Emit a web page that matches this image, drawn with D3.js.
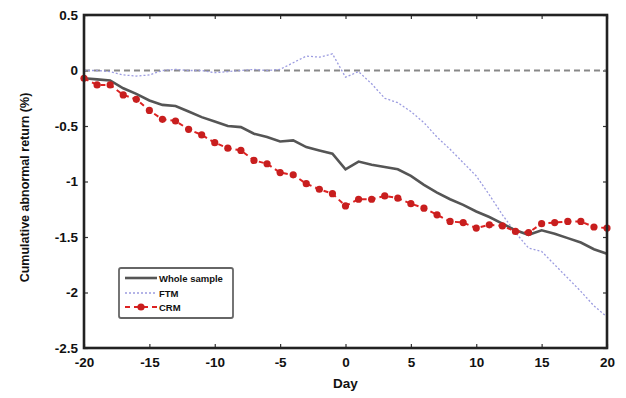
<!DOCTYPE html>
<html><head><meta charset="utf-8">
<script src="https://cdn.jsdelivr.net/npm/d3@7"></script>
<style>body{margin:0;background:#fff}svg text{font-family:"Liberation Sans",Arial,sans-serif;font-weight:bold}</style>
</head><body><svg id="c" width="626" height="398"></svg>
<script>
const days = d3.range(-20, 21);
const wholeSample = [-0.07,-0.08,-0.09,-0.16,-0.21,-0.27,-0.31,-0.32,-0.37,-0.42,-0.46,-0.50,-0.51,-0.57,-0.60,-0.64,-0.63,-0.69,-0.72,-0.75,-0.89,-0.82,-0.85,-0.87,-0.89,-0.95,-1.03,-1.10,-1.16,-1.21,-1.27,-1.32,-1.38,-1.44,-1.48,-1.44,-1.47,-1.51,-1.55,-1.61,-1.65];
const ftm = [0.0,0.0,-0.01,-0.04,-0.05,-0.04,0.0,0.01,0.0,0.0,-0.02,-0.01,0.0,0.01,0.0,0.01,0.07,0.13,0.12,0.15,-0.06,-0.01,-0.12,-0.25,-0.29,-0.37,-0.47,-0.60,-0.71,-0.83,-0.95,-1.12,-1.30,-1.46,-1.60,-1.63,-1.75,-1.87,-1.99,-2.12,-2.22];
const crm = [-0.07,-0.13,-0.13,-0.22,-0.26,-0.36,-0.44,-0.455,-0.53,-0.58,-0.65,-0.70,-0.72,-0.81,-0.84,-0.92,-0.94,-1.02,-1.07,-1.11,-1.22,-1.16,-1.16,-1.13,-1.15,-1.20,-1.24,-1.30,-1.36,-1.37,-1.42,-1.39,-1.40,-1.45,-1.46,-1.38,-1.37,-1.36,-1.36,-1.41,-1.42];
const xTicks = [-20,-15,-10,-5,0,5,10,15,20];
const yTicks = [0.5,0,-0.5,-1,-1.5,-2,-2.5];
const legendLabels = ["Whole sample","FTM","CRM"];

const svg = d3.select("#c");
const L=84,R=607,T=15,B=348;
const x = d3.scaleLinear().domain([-20,20]).range([L,R]);
const y = d3.scaleLinear().domain([-2.5,0.5]).range([B,T]);

const fmt = d=>String(d).replace("\u2212","-");
const xa = svg.append("g").attr("transform",`translate(0,${B})`)
  .call(d3.axisBottom(x).tickValues(xTicks).tickSizeInner(-4).tickSizeOuter(0).tickPadding(9).tickFormat(fmt));
const xt = svg.append("g").attr("transform",`translate(0,${T})`)
  .call(d3.axisTop(x).tickValues(xTicks).tickSizeInner(-4).tickSizeOuter(0).tickFormat(""));
const ya = svg.append("g").attr("transform",`translate(${L},0)`)
  .call(d3.axisLeft(y).tickValues(yTicks).tickSizeInner(-4).tickSizeOuter(0).tickPadding(6).tickFormat(fmt));
const yr = svg.append("g").attr("transform",`translate(${R},0)`)
  .call(d3.axisRight(y).tickValues(yTicks).tickSizeInner(-4).tickSizeOuter(0).tickFormat(""));
[xa,xt,ya,yr].forEach(g=>{g.select(".domain").remove();g.selectAll("line").attr("stroke","#333").attr("stroke-width",1.2);
  g.selectAll("text").attr("font-size",13.5).attr("fill","#111");});

svg.append("line").attr("x1",x(-20)).attr("x2",x(20)).attr("y1",y(0)).attr("y2",y(0))
  .attr("stroke","#888").attr("stroke-width",2.2).attr("stroke-dasharray","6,4");

const line = vals => d3.line().x((d,i)=>x(days[i])).y(d=>y(d))(vals);

svg.append("path").attr("d",line(ftm)).attr("fill","none").attr("stroke","#9c9ce0").attr("stroke-width",1.3).attr("stroke-dasharray","2,2");
svg.append("path").attr("d",line(wholeSample)).attr("fill","none").attr("stroke","#555").attr("stroke-width",2.6);
svg.append("path").attr("d",line(crm)).attr("fill","none").attr("stroke","#d22").attr("stroke-width",2).attr("stroke-dasharray","5,4");
svg.append("g").selectAll("circle").data(crm).join("circle")
  .attr("cx",(d,i)=>x(days[i])).attr("cy",d=>y(d)).attr("r",3.6).attr("fill","#c81e1e");

svg.append("rect").attr("x",L).attr("y",T).attr("width",R-L).attr("height",B-T)
  .attr("fill","none").attr("stroke","#222").attr("stroke-width",2.6);

svg.append("text").attr("x",(L+R)/2).attr("y",388).attr("text-anchor","middle").attr("font-size",13.5).attr("fill","#111").text("Day");
svg.append("text").attr("transform",`translate(29,${(T+B)/2+6}) rotate(-90)`).attr("text-anchor","middle")
  .attr("font-size",12.5).attr("fill","#111").text("Cumulative abnormal return (%)");

const lg = svg.append("g");
lg.append("rect").attr("x",119).attr("y",268).attr("width",114).attr("height",50).attr("rx",2)
  .attr("fill","#fff").attr("stroke","#666").attr("stroke-width",1.8);
const rows=[278,293,307];
const styles=[{s:"#555",w:2.6,da:null},{s:"#9c9ce0",w:1.3,da:"2,2"},{s:"#d22",w:2,da:"5,4"}];
legendLabels.forEach((t,i)=>{
  lg.append("line").attr("x1",125).attr("x2",157).attr("y1",rows[i]).attr("y2",rows[i])
    .attr("stroke",styles[i].s).attr("stroke-width",styles[i].w).attr("stroke-dasharray",styles[i].da);
  if(i===2) lg.append("circle").attr("cx",141).attr("cy",rows[i]).attr("r",3.6).attr("fill","#c81e1e");
  lg.append("text").attr("x",159).attr("y",rows[i]+3.5).attr("font-size",9.5).attr("fill","#111").text(t);
});
</script></body></html>
